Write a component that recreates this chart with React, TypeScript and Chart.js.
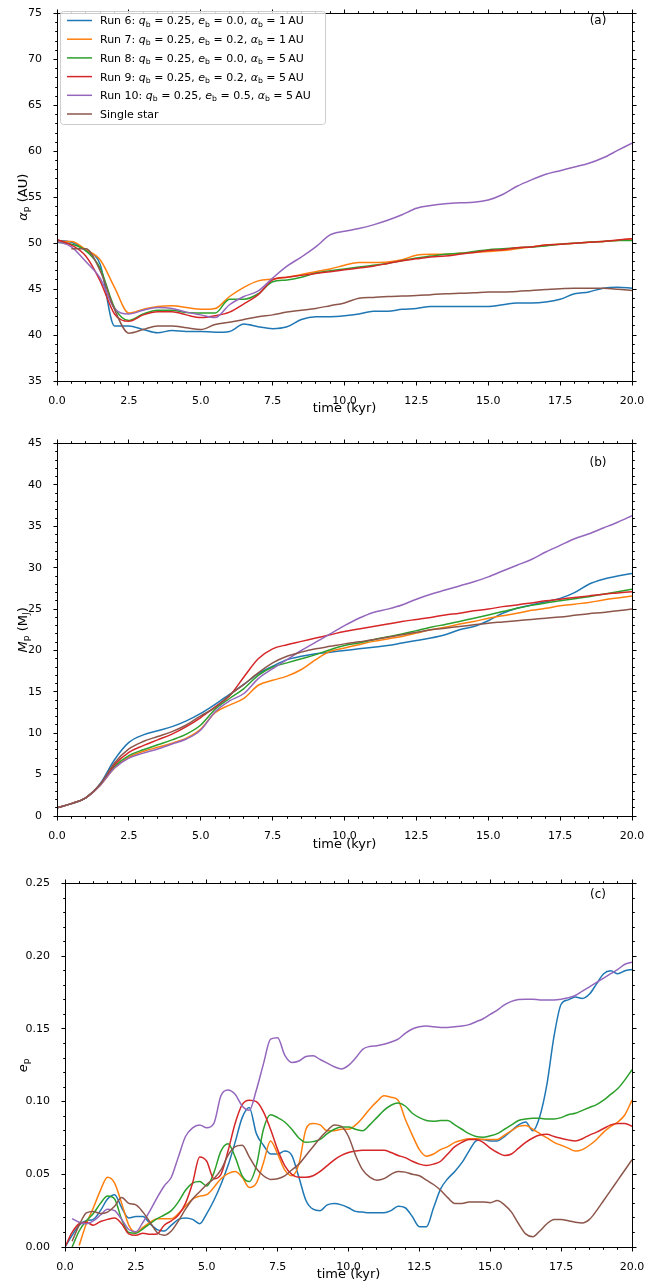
import React, { useEffect, useRef } from 'react';
import { Chart, registerables } from 'chart.js';

Chart.register(...registerables);

const FONT = '"DejaVu Sans", "Liberation Sans", sans-serif';
const COLORS = ['#1f77b4', '#ff7f0e', '#2ca02c', '#d62728', '#9467bd', '#8c564b'];

// Legend labels (*x* = italic, _x = subscript)
const LEGEND_LABELS = [
  'Run 6: *q*_b = 0.25, *e*_b = 0.0, *α*_b = 1\u2009AU',
  'Run 7: *q*_b = 0.25, *e*_b = 0.2, *α*_b = 1\u2009AU',
  'Run 8: *q*_b = 0.25, *e*_b = 0.0, *α*_b = 5\u2009AU',
  'Run 9: *q*_b = 0.25, *e*_b = 0.2, *α*_b = 5\u2009AU',
  'Run 10: *q*_b = 0.25, *e*_b = 0.5, *α*_b = 5\u2009AU',
  'Single star',
];

const X_TITLE = 'time (kyr)';
const Y_TITLES = ['*α*_p (AU)', '*M*_p (M_J)', '*e*_p'];
const PANEL_LABELS = ['(a)', '(b)', '(c)'];

// time samples (kyr)
const TIME_AB = [
  0, 0.5, 1, 1.5, 2, 2.5, 3, 3.5, 4, 4.5, 5, 5.5, 6, 6.5, 7, 7.5, 8, 8.5, 9, 9.5,
  10, 10.5, 11, 11.5, 12, 12.5, 13, 13.5, 14, 14.5, 15, 15.5, 16, 16.5, 17, 17.5, 18, 18.5, 19, 19.5, 20,
];
const TIME_C = [
  0, 0.25, 0.5, 0.75, 1, 1.25, 1.5, 1.75, 2, 2.25,
  2.5, 2.75, 3, 3.25, 3.5, 3.75, 4, 4.25, 4.5, 4.75,
  5, 5.25, 5.5, 5.75, 6, 6.25, 6.5, 6.75, 7, 7.25,
  7.5, 7.75, 8, 8.25, 8.5, 8.75, 9, 9.25, 9.5, 9.75,
  10, 10.25, 10.5, 10.75, 11, 11.25, 11.5, 11.75, 12, 12.25,
  12.5, 12.75, 13, 13.25, 13.5, 13.75, 14, 14.25, 14.5, 14.75,
  15, 15.25, 15.5, 15.75, 16, 16.25, 16.5, 16.75, 17, 17.25,
  17.5, 17.75, 18, 18.25, 18.5, 18.75, 19, 19.25, 19.5, 19.75,
  20,
];

// Panel (a): semi-major axis (AU)
const A_RUN6 = [50.3, 50.1, 49.2, 47.7, 41.0, 41.0, 40.6, 40.25, 40.5, 40.4, 40.4, 40.3, 40.4, 41.2, 40.9, 40.7, 40.9, 41.7, 42.0, 42.0, 42.1, 42.3, 42.6, 42.6, 42.8, 42.9, 43.1, 43.1, 43.1, 43.1, 43.1, 43.3, 43.5, 43.5, 43.6, 43.9, 44.5, 44.7, 45.1, 45.2, 45.1];
const A_RUN7 = [50.2, 50.2, 49.3, 48.2, 45.2, 42.4, 42.8, 43.1, 43.2, 43.0, 42.8, 42.9, 44.2, 45.2, 45.9, 46.1, 46.3, 46.6, 46.9, 47.2, 47.6, 47.9, 47.9, 47.95, 48.2, 48.7, 48.8, 48.8, 48.9, 49.0, 49.1, 49.2, 49.4, 49.6, 49.8, 49.9, 50.0, 50.1, 50.2, 50.3, 50.5];
const A_RUN8 = [50.1, 49.9, 49.2, 47.3, 43.0, 41.6, 42.3, 42.7, 42.7, 42.45, 42.4, 42.4, 43.9, 43.9, 44.5, 45.8, 46.0, 46.3, 46.75, 47.0, 47.2, 47.4, 47.6, 47.8, 48.1, 48.4, 48.6, 48.8, 48.9, 49.1, 49.3, 49.4, 49.5, 49.6, 49.7, 49.9, 50.0, 50.1, 50.2, 50.3, 50.3];
const A_RUN9 = [50.4, 49.8, 48.6, 45.9, 42.3, 41.5, 42.2, 42.55, 42.55, 42.2, 41.9, 42.1, 42.5, 43.4, 44.4, 46.0, 46.3, 46.5, 46.7, 46.9, 47.1, 47.3, 47.5, 47.8, 48.1, 48.3, 48.5, 48.6, 48.8, 49.0, 49.2, 49.3, 49.5, 49.6, 49.8, 49.9, 50.0, 50.1, 50.2, 50.35, 50.5];
const A_RUN10 = [50.2, 49.6, 48.0, 46.2, 42.9, 42.3, 42.7, 43.0, 42.9, 42.5, 42.2, 41.9, 43.3, 44.2, 44.8, 46.2, 47.5, 48.5, 49.6, 50.9, 51.3, 51.6, 52.0, 52.5, 53.1, 53.8, 54.1, 54.3, 54.4, 54.45, 54.7, 55.3, 56.2, 56.9, 57.5, 57.9, 58.3, 58.7, 59.3, 60.1, 60.9];
const A_SINGLE = [null, 49.4, 49.4, 47.0, 42.8, 40.2, 40.6, 41.0, 41.0, 40.8, 40.6, 41.15, 41.4, 41.7, 42.0, 42.2, 42.5, 42.7, 42.9, 43.2, 43.5, 44.0, 44.1, 44.2, 44.25, 44.3, 44.4, 44.5, 44.55, 44.6, 44.7, 44.7, 44.75, 44.85, 44.95, 45.05, 45.1, 45.1, 45.1, 45.0, 44.85];

// Panel (b): planet mass (M_J)
const B_RUN6 = [1.0, 1.5, 2.2, 3.9, 6.8, 8.9, 9.8, 10.3, 10.8, 11.5, 12.4, 13.5, 14.7, 15.9, 17.2, 18.1, 18.9, 19.3, 19.6, 19.8, 20.0, 20.2, 20.4, 20.6, 20.9, 21.2, 21.5, 21.9, 22.5, 22.9, 23.6, 24.5, 25.1, 25.5, 25.9, 26.3, 27.0, 28.0, 28.6, 29.0, 29.3];
const B_RUN7 = [1.0, 1.5, 2.2, 3.7, 5.8, 7.1, 7.8, 8.3, 8.8, 9.4, 10.5, 12.5, 13.4, 14.2, 15.8, 16.4, 16.9, 17.7, 18.9, 19.9, 20.3, 20.7, 21.1, 21.4, 21.7, 22.1, 22.5, 22.8, 23.2, 23.5, 23.9, 24.2, 24.5, 24.85, 25.1, 25.4, 25.6, 25.8, 26.1, 26.35, 26.6];
const B_RUN8 = [1.0, 1.5, 2.2, 3.8, 6.0, 7.3, 8.0, 8.6, 9.2, 9.9, 11.0, 12.9, 14.2, 15.4, 17.0, 18.0, 18.5, 19.0, 19.5, 20.1, 20.6, 20.9, 21.3, 21.65, 22.0, 22.4, 22.8, 23.15, 23.5, 23.9, 24.3, 24.7, 25.1, 25.45, 25.75, 26.0, 26.25, 26.5, 26.8, 27.1, 27.4];
const B_RUN9 = [1.0, 1.5, 2.2, 3.8, 6.2, 7.7, 8.5, 9.2, 9.9, 10.8, 11.9, 13.2, 14.5, 16.8, 19.0, 20.2, 20.7, 21.1, 21.5, 21.9, 22.3, 22.6, 22.9, 23.2, 23.5, 23.75, 24.0, 24.3, 24.5, 24.8, 25.0, 25.3, 25.5, 25.75, 26.0, 26.2, 26.4, 26.6, 26.8, 26.95, 27.1];
const B_RUN10 = [1.0, 1.5, 2.2, 3.7, 5.8, 7.0, 7.6, 8.1, 8.7, 9.3, 10.4, 12.6, 13.9, 14.8, 16.6, 17.8, 18.9, 20.0, 21.0, 22.0, 23.0, 23.9, 24.6, 25.0, 25.5, 26.2, 26.8, 27.3, 27.8, 28.3, 28.9, 29.6, 30.3, 31.0, 31.9, 32.7, 33.5, 34.1, 34.8, 35.5, 36.3];
const B_SINGLE = [1.0, 1.5, 2.2, 3.8, 6.4, 8.1, 9.0, 9.6, 10.2, 11.0, 12.1, 13.1, 14.6, 15.9, 17.3, 18.5, 19.3, 19.8, 20.2, 20.5, 20.8, 21.05, 21.3, 21.6, 21.9, 22.2, 22.5, 22.7, 22.9, 23.1, 23.3, 23.45, 23.6, 23.75, 23.9, 24.05, 24.25, 24.45, 24.6, 24.8, 25.0];

// Panel (c): eccentricity
const C_RUN6 = [
  0.000, 0.008, 0.015, 0.018, 0.019, 0.025, 0.033, 0.036, 0.027, 0.020,
  0.021, 0.021, 0.016, 0.012, 0.011, 0.015, 0.019, 0.020, 0.019, 0.016,
  0.023, 0.032, 0.043, 0.056, 0.072, 0.089, 0.096, 0.078, 0.070, 0.064,
  0.064, 0.066, 0.063, 0.048, 0.032, 0.026, 0.025, 0.029, 0.030, 0.029,
  0.027, 0.0245, 0.024, 0.0235, 0.0235, 0.0235, 0.025, 0.028, 0.027, 0.021,
  0.014, 0.014, 0.027, 0.040, 0.047, 0.052, 0.058, 0.066, 0.073, 0.074,
  0.073, 0.073, 0.076, 0.080, 0.084, 0.086, 0.080, 0.090, 0.112, 0.145,
  0.167, 0.170, 0.172, 0.171, 0.174, 0.181, 0.188, 0.190, 0.188, 0.190,
  0.191,
];
const C_RUN7 = [
  null, null, 0.001, 0.016, 0.027, 0.039, 0.048, 0.044, 0.030, 0.015,
  0.010, 0.0135, 0.017, 0.0195, 0.0195, 0.0195, 0.023, 0.028, 0.033, 0.035,
  0.036, 0.041, 0.047, 0.0505, 0.052, 0.048, 0.041, 0.044, 0.058, 0.073,
  0.064, 0.053, 0.049, 0.057, 0.081, 0.085, 0.084, 0.080, 0.080, 0.081,
  0.081, 0.084, 0.089, 0.095, 0.100, 0.104, 0.103, 0.101, 0.088, 0.077,
  0.067, 0.0625, 0.064, 0.067, 0.069, 0.072, 0.0735, 0.0745, 0.0745, 0.074,
  0.074, 0.074, 0.077, 0.080, 0.083, 0.0835, 0.081, 0.078, 0.075, 0.072,
  0.070, 0.068, 0.066, 0.067, 0.070, 0.074, 0.079, 0.083, 0.086, 0.091,
  0.101,
];
const C_RUN8 = [
  null, 0.000, 0.011, 0.018, 0.023, 0.030, 0.035, 0.033, 0.019, 0.010,
  0.0095, 0.0125, 0.016, 0.0195, 0.022, 0.025, 0.031, 0.039, 0.044, 0.045,
  0.042, 0.051, 0.066, 0.071, 0.062, 0.049, 0.045, 0.056, 0.081, 0.091,
  0.089, 0.086, 0.081, 0.075, 0.072, 0.0725, 0.074, 0.078, 0.081, 0.0825,
  0.0825, 0.081, 0.080, 0.084, 0.089, 0.094, 0.0975, 0.099, 0.097, 0.092,
  0.089, 0.087, 0.0865, 0.087, 0.087, 0.084, 0.081, 0.078, 0.076, 0.0755,
  0.0765, 0.078, 0.081, 0.084, 0.087, 0.088, 0.0885, 0.0885, 0.088, 0.088,
  0.089, 0.091, 0.092, 0.094, 0.096, 0.098, 0.101, 0.105, 0.109, 0.115,
  0.122,
];
const C_RUN9 = [
  0.000, 0.010, 0.016, 0.017, 0.015, 0.0175, 0.019, 0.020, 0.016, 0.009,
  0.008, 0.0095, 0.0087, 0.009, 0.015, 0.018, 0.022, 0.030, 0.044, 0.062,
  0.059, 0.047, 0.050, 0.066, 0.085, 0.098, 0.101, 0.100, 0.093, 0.081,
  0.067, 0.056, 0.050, 0.048, 0.048, 0.049, 0.052, 0.056, 0.060, 0.063,
  0.065, 0.066, 0.0665, 0.0665, 0.0665, 0.0665, 0.065, 0.063, 0.0615, 0.059,
  0.057, 0.056, 0.057, 0.059, 0.064, 0.069, 0.072, 0.074, 0.074, 0.072,
  0.068, 0.065, 0.063, 0.064, 0.068, 0.072, 0.075, 0.077, 0.0775, 0.076,
  0.0748, 0.0737, 0.073, 0.0745, 0.077, 0.079, 0.0815, 0.084, 0.085, 0.085,
  0.083,
];
const C_RUN10 = [
  null, 0.0195, 0.017, 0.016, 0.018, 0.022, 0.026, 0.025, 0.019, 0.012,
  0.0105, 0.017, 0.025, 0.034, 0.042, 0.048, 0.062, 0.076, 0.082, 0.084,
  0.082, 0.085, 0.104, 0.108, 0.105, 0.097, 0.094, 0.108, 0.126, 0.143,
  0.144, 0.132, 0.127, 0.128, 0.131, 0.1315, 0.129, 0.1265, 0.124, 0.1225,
  0.125, 0.130, 0.136, 0.138, 0.1385, 0.1395, 0.141, 0.143, 0.147, 0.150,
  0.1515, 0.152, 0.1515, 0.151, 0.151, 0.1515, 0.152, 0.153, 0.155, 0.157,
  0.160, 0.163, 0.1665, 0.169, 0.1703, 0.1705, 0.1705, 0.170, 0.170, 0.170,
  0.1705, 0.1715, 0.173, 0.176, 0.179, 0.182, 0.185, 0.188, 0.191, 0.1945,
  0.196,
];
const C_SINGLE = [
  null, 0.004, 0.015, 0.0235, 0.0245, 0.023, 0.024, 0.028, 0.034, 0.030,
  0.029, 0.024, 0.017, 0.010, 0.008, 0.011, 0.018, 0.026, 0.033, 0.038,
  0.043, 0.047, 0.053, 0.063, 0.069, 0.070, 0.062, 0.054, 0.049, 0.0465,
  0.047, 0.049, 0.053, 0.057, 0.063, 0.069, 0.075, 0.080, 0.084, 0.083,
  0.076, 0.063, 0.053, 0.048, 0.046, 0.047, 0.050, 0.052, 0.0515, 0.050,
  0.049, 0.046, 0.043, 0.039, 0.034, 0.030, 0.030, 0.031, 0.031, 0.031,
  0.0305, 0.032, 0.029, 0.024, 0.016, 0.009, 0.007, 0.011, 0.016, 0.019,
  0.019, 0.018, 0.017, 0.0165, 0.019, 0.025, 0.032, 0.039, 0.046, 0.053,
  0.060,
];

type Val = number | null;

type PanelCfg = {
  key: string;
  top: number;
  height: number;
  plotTop: number;
  plotBottom: number;
  plotLeft: number;
  plotRight: number;
  yMin: number;
  yMax: number;
  yMajor: number;
  yMinor: number;
  yDecimals: number;
  xTitleY: number;
  yTitle: string;
  panelLabel: string;
  labelY: number;
  legend: boolean;
  time: number[];
  series: Val[][];
};

const PANELS: PanelCfg[] = [
  {
    key: 'a', top: 0, height: 430, plotTop: 8, plotBottom: 381, plotLeft: 57, plotRight: 632,
    yMin: 35, yMax: 75, yMajor: 5, yMinor: 1, yDecimals: 0, xTitleY: 409,
    yTitle: Y_TITLES[0], panelLabel: PANEL_LABELS[0], labelY: 21, legend: true,
    time: TIME_AB, series: [A_RUN6, A_RUN7, A_RUN8, A_RUN9, A_RUN10, A_SINGLE],
  },
  {
    key: 'b', top: 430, height: 440, plotTop: 12, plotBottom: 386, plotLeft: 57, plotRight: 632,
    yMin: 0, yMax: 45, yMajor: 5, yMinor: 1, yDecimals: 0, xTitleY: 415,
    yTitle: Y_TITLES[1], panelLabel: PANEL_LABELS[1], labelY: 33, legend: false,
    time: TIME_AB, series: [B_RUN6, B_RUN7, B_RUN8, B_RUN9, B_RUN10, B_SINGLE],
  },
  {
    key: 'c', top: 870, height: 418, plotTop: 8, plotBottom: 377, plotLeft: 65, plotRight: 632,
    yMin: 0, yMax: 0.25, yMajor: 0.05, yMinor: 0.01, yDecimals: 2, xTitleY: 405,
    yTitle: Y_TITLES[2], panelLabel: PANEL_LABELS[2], labelY: 25, legend: false,
    time: TIME_C, series: [C_RUN6, C_RUN7, C_RUN8, C_RUN9, C_RUN10, C_SINGLE],
  },
];

type Seg = { t: string; it: boolean; sub: boolean };
function parseRich(s: string): Seg[] {
  const out: Seg[] = [];
  const re = /\*([^*]+)\*|_(.)|([^*_]+)/g;
  let m: RegExpExecArray | null;
  while ((m = re.exec(s))) {
    if (m[1]) out.push({ t: m[1], it: true, sub: false });
    else if (m[2]) out.push({ t: m[2], it: false, sub: true });
    else if (m[3]) out.push({ t: m[3], it: false, sub: false });
  }
  return out;
}

function drawRich(ctx: CanvasRenderingContext2D, text: string, x: number, yMid: number, size: number, align: 'left' | 'center') {
  const segs = parseRich(text);
  const fontOf = (s: Seg) => `${s.it ? 'italic ' : ''}${s.sub ? size * 0.7 : size}px ${FONT}`;
  let w = 0;
  for (const s of segs) {
    ctx.font = fontOf(s);
    w += ctx.measureText(s.t).width;
  }
  let cx = align === 'center' ? x - w / 2 : x;
  ctx.textAlign = 'left';
  ctx.textBaseline = 'alphabetic';
  const base = yMid + size * 0.36;
  for (const s of segs) {
    ctx.font = fontOf(s);
    ctx.fillText(s.t, cx, s.sub ? base + size * 0.2 : base);
    cx += ctx.measureText(s.t).width;
  }
}

const snap = (v: number) => Math.round(v) + 0.5;

function makeDeco(cfg: PanelCfg) {
  return {
    id: 'deco_' + cfg.key,
    afterDraw(chart: any) {
      const ctx = chart.ctx as CanvasRenderingContext2D;
      const ca = chart.chartArea;
      const xs = chart.scales.x;
      const ys = chart.scales.y;
      const L = snap(ca.left - 0.5);
      const R = snap(ca.right - 0.5);
      const T = snap(ca.top - 0.5);
      const B = snap(ca.bottom - 0.5);
      ctx.save();
      ctx.strokeStyle = '#000';
      ctx.lineWidth = 1;

      const drawTicks = (scale: any, min: number, max: number, minor: number, major: number, horiz: boolean) => {
        const n = Math.round((max - min) / minor);
        const ratio = Math.round(major / minor);
        ctx.beginPath();
        for (let i = 0; i <= n; i++) {
          const v = min + i * minor;
          const p = snap(scale.getPixelForValue(v) - 0.5);
          const len = i % ratio === 0 ? 4 : 2.3;
          if (horiz) {
            ctx.moveTo(p, B); ctx.lineTo(p, B + len);
            ctx.moveTo(p, T); ctx.lineTo(p, T - len);
          } else {
            ctx.moveTo(L, p); ctx.lineTo(L - len, p);
            ctx.moveTo(R, p); ctx.lineTo(R + len, p);
          }
        }
        ctx.stroke();
      };
      drawTicks(xs, 0, 20, 0.5, 2.5, true);
      drawTicks(ys, cfg.yMin, cfg.yMax, cfg.yMinor, cfg.yMajor, false);

      ctx.strokeRect(L, T, R - L, B - T);

      ctx.fillStyle = '#000';
      // panel label
      ctx.font = `12px ${FONT}`;
      ctx.textAlign = 'center';
      ctx.textBaseline = 'middle';
      ctx.fillText(cfg.panelLabel, 598, cfg.labelY);

      // x title
      ctx.font = `13px ${FONT}`;
      ctx.fillText(X_TITLE, (ca.left + ca.right) / 2, cfg.xTitleY);

      // y title (rotated)
      ctx.save();
      ctx.translate(22, (ca.top + ca.bottom) / 2);
      ctx.rotate(-Math.PI / 2);
      drawRich(ctx, cfg.yTitle, 0, 0, 13, 'center');
      ctx.restore();

      if (cfg.legend) {
        const bx = 60.5, by = 11.5, bw = 265, bh = 113, r = 3;
        ctx.beginPath();
        ctx.moveTo(bx + r, by);
        ctx.lineTo(bx + bw - r, by);
        ctx.arcTo(bx + bw, by, bx + bw, by + r, r);
        ctx.lineTo(bx + bw, by + bh - r);
        ctx.arcTo(bx + bw, by + bh, bx + bw - r, by + bh, r);
        ctx.lineTo(bx + r, by + bh);
        ctx.arcTo(bx, by + bh, bx, by + bh - r, r);
        ctx.lineTo(bx, by + r);
        ctx.arcTo(bx, by, bx + r, by, r);
        ctx.closePath();
        ctx.fillStyle = 'rgba(255,255,255,0.8)';
        ctx.fill();
        ctx.strokeStyle = '#cccccc';
        ctx.lineWidth = 1;
        ctx.stroke();
        LEGEND_LABELS.forEach((lab, i) => {
          const cy = 20.5 + i * 18.7;
          ctx.strokeStyle = COLORS[i];
          ctx.lineWidth = 1.5;
          ctx.beginPath();
          ctx.moveTo(67, cy);
          ctx.lineTo(92, cy);
          ctx.stroke();
          ctx.fillStyle = '#000';
          drawRich(ctx, lab, 100, cy, 11, 'left');
        });
      }
      ctx.restore();
    },
  };
}

function buildConfig(cfg: PanelCfg): any {
  return {
    type: 'line',
    data: {
      datasets: cfg.series.map((s, i) => ({
        label: LEGEND_LABELS[i],
        data: cfg.time.map((t, j) => ({ x: t, y: s[j] })),
        borderColor: COLORS[i],
        backgroundColor: COLORS[i],
        borderWidth: 1.5,
        pointRadius: 0,
        fill: false,
        cubicInterpolationMode: 'monotone',
        spanGaps: false,
        order: 5 - i,
      })),
    },
    options: {
      animation: false,
      responsive: true,
      maintainAspectRatio: false,
      events: [],
      layout: { padding: { top: cfg.plotTop, right: 672 - cfg.plotRight, left: 0, bottom: 0 } },
      plugins: {
        legend: { display: false },
        tooltip: { enabled: false },
        title: { display: false },
      },
      scales: {
        x: {
          type: 'linear',
          min: 0,
          max: 20,
          grid: { display: false },
          border: { display: false },
          ticks: {
            stepSize: 2.5,
            autoSkip: false,
            maxRotation: 0,
            padding: 6,
            color: '#000',
            font: { family: FONT, size: 11 },
            callback: (v: any) => Number(v).toFixed(1),
          },
          afterFit: (s: any) => { s.height = cfg.height - cfg.plotBottom; },
        },
        y: {
          type: 'linear',
          min: cfg.yMin,
          max: cfg.yMax,
          grid: { display: false },
          border: { display: false },
          ticks: {
            stepSize: cfg.yMajor,
            autoSkip: false,
            padding: 7,
            color: '#000',
            font: { family: FONT, size: 11 },
            callback: (v: any) => Number(v).toFixed(cfg.yDecimals),
          },
          afterFit: (s: any) => { s.width = cfg.plotLeft; },
        },
      },
    },
    plugins: [makeDeco(cfg)],
  };
}

function Panel({ cfg }: { cfg: PanelCfg }) {
  const ref = useRef<HTMLCanvasElement | null>(null);
  useEffect(() => {
    if (!ref.current) return;
    const chart = new Chart(ref.current, buildConfig(cfg));
    return () => chart.destroy();
  }, [cfg]);
  return (
    <div style={{ position: 'absolute', left: 0, top: cfg.top, width: 672, height: cfg.height }}>
      <canvas ref={ref} />
    </div>
  );
}

export default function App() {
  return (
    <div style={{ position: 'absolute', left: 0, top: 0, width: 672, height: 1288, background: '#ffffff' }}>
      {PANELS.map((p) => (
        <Panel key={p.key} cfg={p} />
      ))}
    </div>
  );
}
